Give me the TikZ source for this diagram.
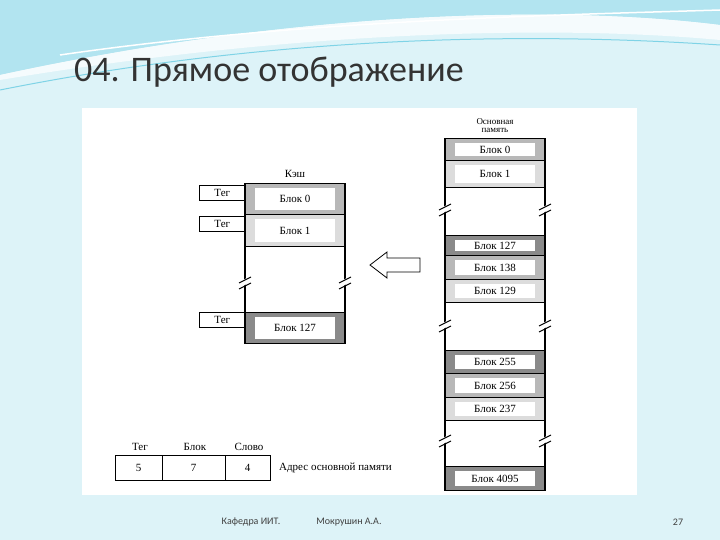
\documentclass[tikz,border=0pt]{standalone}
\usepackage{fontspec}
\setmainfont{Liberation Serif}
\newfontfamily\titlefont{Carlito}
\definecolor{bgc}{HTML}{DDF3F8}
\definecolor{wavec}{HTML}{7FD3E6}
\definecolor{shA}{HTML}{8A8A8A}
\definecolor{shB}{HTML}{B8B8B8}
\definecolor{shC}{HTML}{DCDCDC}
\tikzset{
  blkbox/.style={draw, line width=1.3pt, minimum width=100pt, inner sep=0pt, anchor=north},
  inbox/.style={fill=white, minimum width=80pt, inner sep=0pt, font=\fontsize{11}{12}\selectfont},
  tagbox/.style={draw, line width=0.6pt, minimum width=46pt, minimum height=15pt, inner sep=0pt, anchor=north west, font=\fontsize{11}{12}\selectfont},
  lbl/.style={font=\fontsize{11}{12}\selectfont, inner sep=0pt},
  foot/.style={font=\titlefont\fontsize{10}{11}\selectfont, text=black!75},
  brk/.style={line width=1pt}
}
\newcommand\mblk[6]{%
  \node[blkbox, fill=#5, minimum height=#4pt] (#1) at (#2,#3) {};
  \node[inbox, minimum height=#4pt-9pt] (#1t) at (#1.center) {#6};}
\newcommand\mbrk[2]{%
  \fill[white] (#1-5,#2+4) -- (#1+5,#2-2) -- (#1+5,#2-8) -- (#1-5,#2-2) -- cycle;
  \draw[brk] (#1-6,#2+5) -- (#1+6,#2-1);
  \draw[brk] (#1-6,#2-1) -- (#1+6,#2-7);}
\begin{document}
\begin{tikzpicture}[x=1pt,y=-1pt]
\useasboundingbox (0,0) rectangle (720,540);
\fill[bgc] (0,0) rectangle (720,540);
\fill[wavec!60] (0,0) -- (720,0) -- (720,25) .. controls (560,5) and (300,10) .. (0,75) -- cycle;
\fill[white!70!bgc] (0,75) .. controls (300,10) and (560,5) .. (720,25) -- (720,40) .. controls (560,25) and (300,30) .. (0,80) -- cycle;
\draw[white, line width=1.5pt] (60,55) .. controls (300,20) and (560,15) .. (720,10);
\draw[wavec, line width=1pt] (0,90) .. controls (250,40) and (500,30) .. (720,45);
\node[anchor=west, font=\titlefont\fontsize{36}{40}\selectfont, text=black!80, inner sep=0pt] (title) at (74,72) {04. Прямое отображение};
\fill[white] (82,108) rectangle (637,495);
% cache
\node[lbl] (kesh) at (295,174) {Кэш};
\mblk{c0}{295}{183}{31}{shB}{Блок 0}
\mblk{c1}{295}{214}{32}{shC}{Блок 1}
\node[blkbox, minimum height=66pt] (cg) at (295,246) {};
\mblk{c127}{295}{312}{31}{shA}{Блок 127}
\node[tagbox] (t0) at (199,185) {Тег};
\node[tagbox] (t1) at (199,216) {Тег};
\node[tagbox] (t127) at (199,312) {Тег};
\mbrk{245}{284}
\mbrk{345}{284}
% arrow
\draw[line width=0.8pt] (370,265) -- (387,252) -- (387,258) -- (420,258) -- (420,272) -- (387,272) -- (387,278) -- cycle;
% memory
\node[lbl, align=center, font=\fontsize{9}{8}\selectfont] (mem) at (495,126) {Основная\\память};
\mblk{m0}{495}{138}{22}{shB}{Блок 0}
\mblk{m1}{495}{160}{27}{shC}{Блок 1}
\node[blkbox, minimum height=48pt] (mg1) at (495,187) {};
\mblk{m127}{495}{235}{20}{shA}{Блок 127}
\mblk{m138}{495}{255}{24}{shB}{Блок 138}
\mblk{m129}{495}{279}{23}{shC}{Блок 129}
\node[blkbox, minimum height=48pt] (mg2) at (495,302) {};
\mblk{m255}{495}{350}{23}{shA}{Блок 255}
\mblk{m256}{495}{373}{24}{shB}{Блок 256}
\mblk{m237}{495}{397}{23}{shC}{Блок 237}
\node[blkbox, minimum height=46pt] (mg3) at (495,420) {};
\mblk{m4095}{495}{466}{24}{shA}{Блок 4095}
\mbrk{445}{211}\mbrk{545}{211}
\mbrk{445}{327}\mbrk{545}{327}
\mbrk{445}{442}\mbrk{545}{442}
% address
\draw[line width=1pt] (115,455) rectangle (270,480);
\draw[line width=1pt] (162,455) -- (162,480) (225,455) -- (225,480);
\node[lbl] (a5) at (138.5,467.5) {5};
\node[lbl] (a7) at (193.5,467.5) {7};
\node[lbl] (a4) at (247.5,467.5) {4};
\node[lbl] (ht) at (140,447) {Тег};
\node[lbl] (hb) at (195,447) {Блок};
\node[lbl] (hs) at (249,447) {Слово};
\node[lbl, anchor=west] (adr) at (279,467.5) {Адрес основной памяти};
% footer
\node[foot] (f1) at (251,522) {Кафедра ИИТ.};
\node[foot] (f2) at (349,522) {Мокрушин А.А.};
\node[foot] (f3) at (678,522) {27};
\end{tikzpicture}
\end{document}
